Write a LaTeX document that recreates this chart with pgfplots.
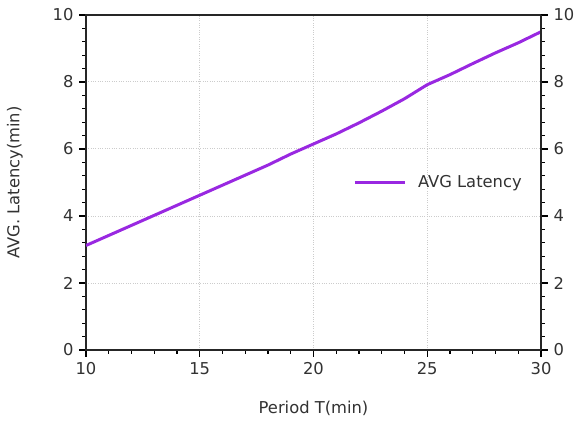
\documentclass[border=0pt]{standalone}
\usepackage{pgfplots}
\pgfplotsset{compat=1.18}
\usepackage{fontspec}
\setmainfont{DejaVu Sans}
\usetikzlibrary{calc}
\definecolor{lineP}{RGB}{153,40,225}
\definecolor{txt}{RGB}{50,50,50}
\begin{document}
\begin{tikzpicture}[font=\fontsize{9.8}{11.5}\selectfont]
\pgfplotsset{common/.style={
  scale only axis, width=273pt, height=201pt,
  xmin=10, xmax=30, ymin=0, ymax=10,
  xtick={10,15,20,25,30}, ytick={0,2,4,6,8,10},
  minor x tick num=4, minor y tick num=4,
  tick align=outside,
  major tick length=4pt, minor tick length=2.2pt,
  tick style={black, line width=0.7pt},
  axis line style={line width=0.8pt, black!85},
  ticklabel style={text=txt},
  /pgf/number format/assume math mode=true,
}}
\begin{axis}[common, name=ax,
  xtick pos=bottom, ytick pos=left,
  xmajorgrids, ymajorgrids,
  grid style={densely dotted, gray!40, line width=0.6pt},
  xlabel={Period T(min)}, ylabel={AVG. Latency(min)},
  label style={text=txt},
  xlabel style={yshift=-9pt},
  ylabel style={yshift=11pt},
  legend style={draw=none, fill=none, at={(0.995,0.5)}, anchor=east, text=txt, font=\fontsize{9.8}{11.5}\selectfont,
    nodes={inner xsep=7pt}},
  legend cell align=left,
  legend image code/.code={\draw[#1] (-6pt,0pt) -- (24pt,0pt);},
]
\addplot[lineP, line width=1.8pt] coordinates {
(10,3.12) (11,3.42) (12,3.72) (13,4.02) (14,4.32) (15,4.62) (16,4.92) (17,5.22)
(18,5.52) (19,5.85) (20,6.15) (21,6.45) (22,6.78) (23,7.13) (24,7.5) (25,7.92)
(26,8.22) (27,8.55) (28,8.87) (29,9.17) (30,9.5)};
\addlegendentry{AVG Latency}
\end{axis}
\begin{axis}[common, axis y line*=right, axis x line=none,
  ytick pos=right, yticklabel pos=right]
\end{axis}
\pgfresetboundingbox
\useasboundingbox ($(ax.south west)+(-51.6pt,-44.4pt)$) rectangle ($(ax.north east)+(25.8pt,9pt)$);
\end{tikzpicture}
\end{document}
